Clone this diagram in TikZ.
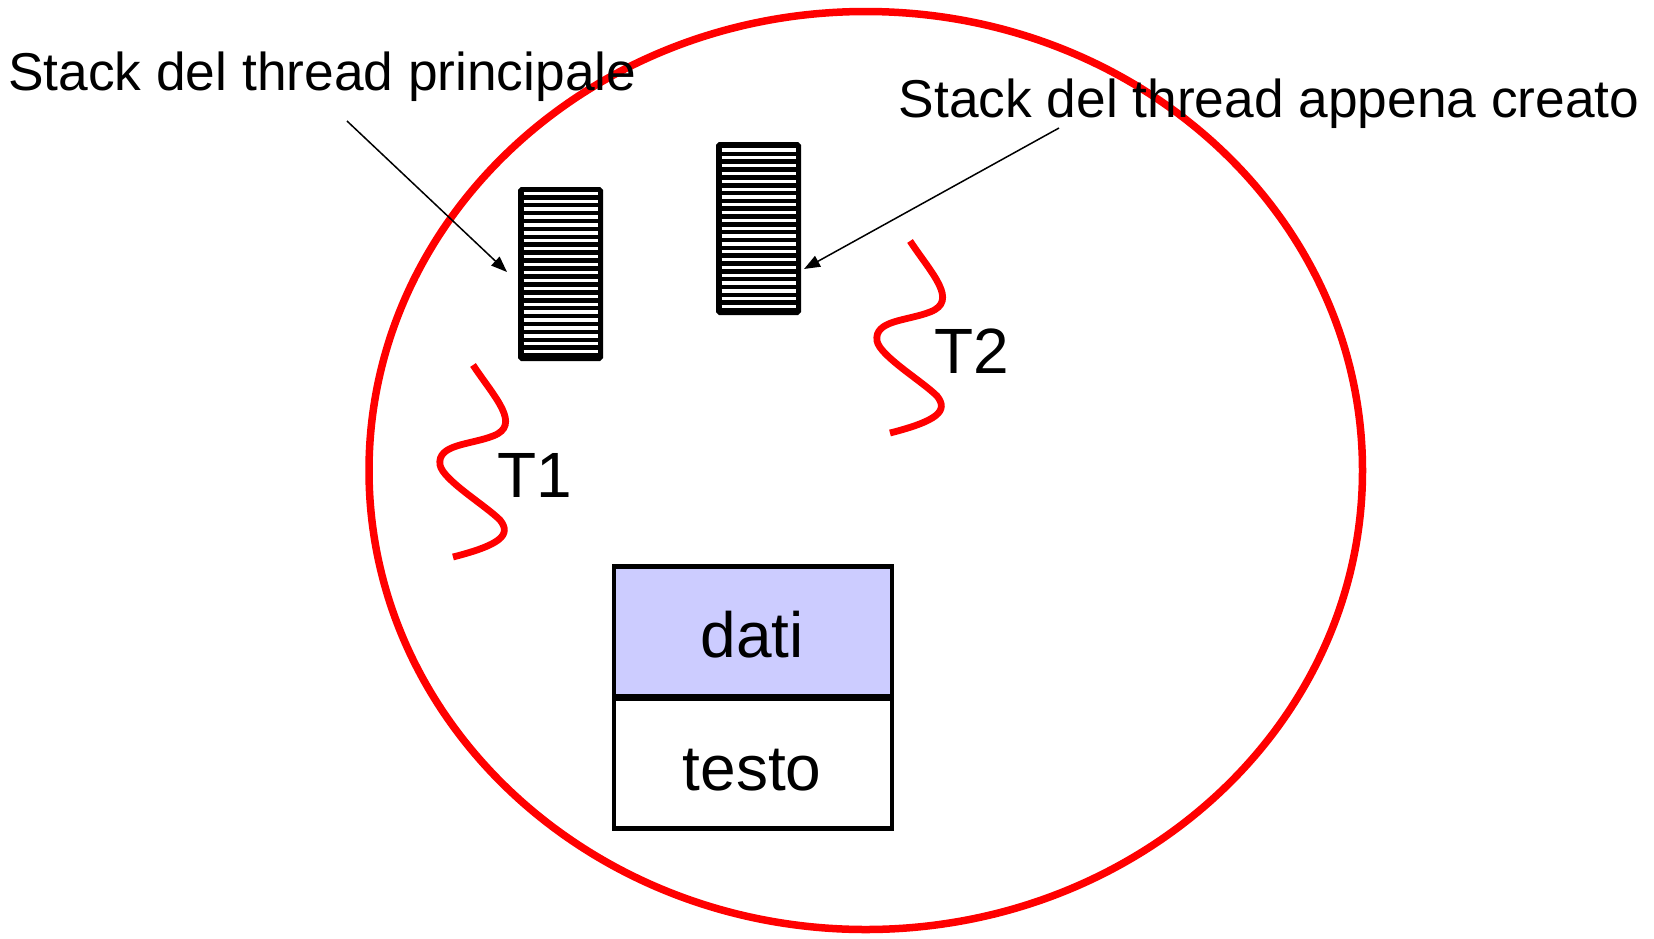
\documentclass[tikz,border=0pt]{standalone}
\usepackage{fontspec}
\setmainfont{Liberation Sans}
\usetikzlibrary{arrows.meta}
\definecolor{procred}{HTML}{FF0000}
\definecolor{datafill}{HTML}{CCCCFF}
\tikzset{
  labeltext/.style={inner sep=0pt, anchor=base west, font=\fontsize{53.3}{60}\selectfont},
  bigtext/.style={inner sep=0pt, font=\fontsize{64}{70}\selectfont},
  stackbox/.style={draw=black, fill=black, line width=5pt, rounded corners=1.5pt,
    minimum width=80pt, inner sep=0pt},
  stripe/.style={white, line width=3.3pt},
  thread/.style={procred, line width=6.8pt},
  segbox/.style={draw=black, line width=4.8pt, minimum width=278pt, inner sep=0pt},
  pointer/.style={black, line width=1.5pt, -{Triangle[length=16pt,width=12pt]}}
}
\begin{document}
\begin{tikzpicture}[x=1pt,y=-1pt]
\useasboundingbox (0,0) rectangle (1654,938);
\fill[white] (0,0) rectangle (1654,938);

% process ellipse
\draw[procred, line width=7.5pt] (865.75,470.5) ellipse [x radius=496.75pt, y radius=459pt];

% stacks
\node[stackbox, minimum height=169pt] (s1) at (560.5,274) {};
\foreach \k in {0,...,20} {
  \draw[stripe] (523.5,193.3+\k*7.92) -- (597.5,193.3+\k*7.92);
}
\node[stackbox, minimum height=168pt] (s2) at (758.5,228.5) {};
\foreach \k in {0,...,20} {
  \draw[stripe] (721.5,150+\k*7.83) -- (795.5,150+\k*7.83);
}

% labels
\node[labeltext] (l1) at (8,90.7) {Stack del thread principale};
\node[labeltext] (l2) at (898.5,117) {Stack del thread appena creato};

% pointers
\coordinate (a1s) at (347,121);
\coordinate (a1e) at (507,272);
\coordinate (a2s) at (1059,128);
\coordinate (a2e) at (804,269);
\draw[pointer] (a1s) -- (a1e);
\draw[pointer] (a2s) -- (a2e);

% threads
\draw[thread] (473,365) .. controls (495,398) and (522,425) .. (493,436)
  .. controls (470,445) and (437,444) .. (440,465)
  .. controls (443,480) and (485,505) .. (500,520)
  .. controls (512,535) and (500,545) .. (453,557);
\node[bigtext, anchor=base west] (t1) at (497,497) {T1};
\begin{scope}[shift={(437,-124)}]
\draw[thread] (473,365) .. controls (495,398) and (522,425) .. (493,436)
  .. controls (470,445) and (437,444) .. (440,465)
  .. controls (443,480) and (485,505) .. (500,520)
  .. controls (512,535) and (500,545) .. (453,557);
\end{scope}
\node[bigtext, anchor=base west] (t2) at (934,373) {T2};

% data and text segments
\node[segbox, fill=datafill, minimum height=129.5pt] (dati) at (753,631.25) {};
\node[segbox, fill=white, minimum height=129.7pt] (testo) at (753,763.85) {};
\node[bigtext, anchor=base] (dl) at (752,657.3) {dati};
\node[bigtext, anchor=base] (tl) at (752,790.7) {testo};
\end{tikzpicture}
\end{document}
